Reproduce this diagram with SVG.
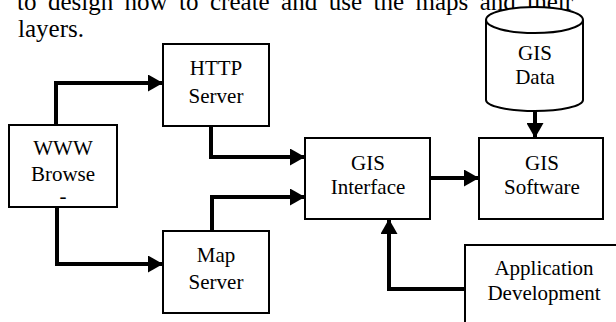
<svg xmlns="http://www.w3.org/2000/svg" width="616" height="322" viewBox="0 0 616 322">
<style>
.box{fill:#fff;stroke:#000;stroke-width:2}
.t{font-family:"Liberation Serif","Times New Roman",serif;font-size:21px;fill:#000;text-anchor:middle}
.body{font-family:"Liberation Serif","Times New Roman",serif;font-size:25px;fill:#000}
.c{fill:none;stroke:#000;stroke-width:4;stroke-linejoin:miter}
</style>
<defs>
<marker id="ah" markerUnits="userSpaceOnUse" markerWidth="15" markerHeight="17" refX="15" refY="8.5" orient="auto">
<path d="M0,0 L15,8.5 L0,17 z" fill="#000"/>
</marker>
</defs>
<rect width="616" height="322" fill="#fff"/>
<text class="body" x="17" y="10" word-spacing="5.2">to design how to create and use the maps and their</text>
<text class="body" x="18" y="37">layers.</text>
<g id="connectors">
<path class="c" d="M56,125 V83 H163" marker-end="url(#ah)"/>
<path class="c" d="M57,207 V264 H163" marker-end="url(#ah)"/>
<path class="c" d="M211,126 V157 H305" marker-end="url(#ah)"/>
<path class="c" d="M212,231 V197 H305" marker-end="url(#ah)"/>
<path class="c" d="M430,178 H479" marker-end="url(#ah)"/>
<path class="c" d="M535,111 V138" marker-end="url(#ah)"/>
<path class="c" d="M465,289 H389 V219" marker-end="url(#ah)"/>
</g>
<g id="www">
<rect class="box" x="9" y="125" width="108" height="82"/>
<text class="t" x="63" y="155">WWW</text>
<text class="t" x="63" y="181">Browse</text>
<text class="t" x="63" y="203">-</text>
</g>
<g id="http">
<rect class="box" x="163" y="44" width="106" height="82"/>
<text class="t" x="216" y="75">HTTP</text>
<text class="t" x="216" y="103">Server</text>
</g>
<g id="map">
<rect class="box" x="163" y="231" width="106" height="82"/>
<text class="t" x="216" y="262">Map</text>
<text class="t" x="216" y="289">Server</text>
</g>
<g id="interface">
<rect class="box" x="305" y="138" width="125" height="81"/>
<text class="t" x="368" y="170">GIS</text>
<text class="t" x="368" y="194">Interface</text>
</g>
<g id="software">
<rect class="box" x="479" y="138" width="124" height="81"/>
<text class="t" x="542" y="170">GIS</text>
<text class="t" x="542" y="194">Software</text>
</g>
<g id="data">
<path class="box" d="M486,20 V100 A48.5,11 0 0 0 583,100 V20"/>
<ellipse class="box" cx="534.5" cy="20" rx="48.5" ry="13"/>
<text class="t" x="535" y="60">GIS</text>
<text class="t" x="535" y="84">Data</text>
</g>
<g id="appdev">
<rect class="box" x="465" y="245" width="200" height="120"/>
<text class="t" x="544" y="275">Application</text>
<text class="t" x="544" y="300">Development</text>
</g>
</svg>
